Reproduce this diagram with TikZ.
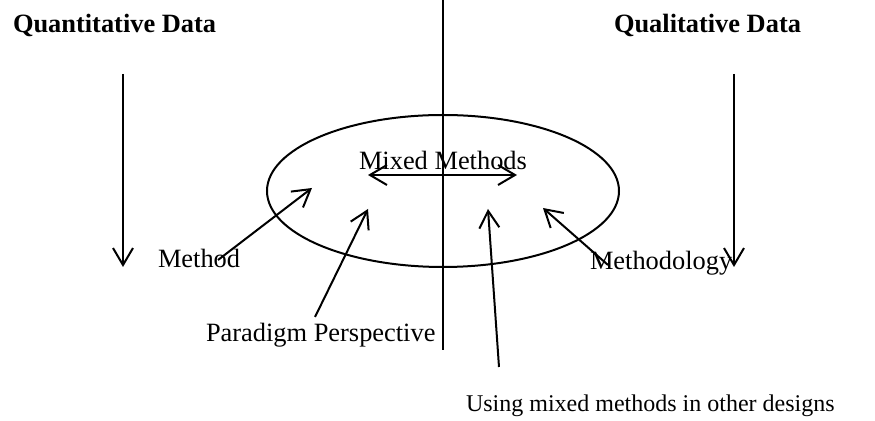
\documentclass[tikz,border=0pt]{standalone}
\usepackage{fontspec}
\setmainfont{Liberation Serif}
\usetikzlibrary{arrows.meta,shapes.geometric}
\begin{document}
\begin{tikzpicture}[x=0.5pt,y=-0.5pt, line width=1pt,
  txt/.style={inner sep=0pt, anchor=base west, font=\fontsize{13.2}{15}\selectfont},
  smalltxt/.style={inner sep=0pt, anchor=base west, font=\fontsize{12}{14}\selectfont},
  head/.style={inner sep=0pt, anchor=base west, font=\fontsize{13.2}{15}\selectfont\bfseries},
  arr/.style={-{Straight Barb[length=8.5pt,width=10pt]}},
  darr/.style={{Straight Barb[length=8.5pt,width=10pt]}-{Straight Barb[length=8.5pt,width=10pt]}}]
\useasboundingbox (0,0) rectangle (875,421);
% headings
\node[head] (quant) at (12,33) {Quantitative Data};
\node[head] (qual) at (613,33) {Qualitative Data};
% centre divider
\coordinate (vtop) at (443,0);
\coordinate (vbot) at (443,350);
\draw (vtop) -- (vbot);
% side arrows
\coordinate (la1) at (123,74);
\coordinate (la2) at (123,267);
\draw[arr] (la1) -- (la2);
\coordinate (ra1) at (734,74);
\coordinate (ra2) at (734,267);
\draw[arr] (ra1) -- (ra2);
% oval
\node[draw, ellipse, minimum width=176pt, minimum height=76pt, inner sep=0pt] (oval) at (443,191) {};
\node[txt] (mm) at (358,170) {Mixed Methods};
\coordinate (dl) at (368,175);
\coordinate (dr) at (517,175);
\draw[darr] (dl) -- (dr);
% labels
\node[txt] (method) at (157,268) {Method};
\node[txt] (paradigm) at (205,342) {Paradigm Perspective};
\node[smalltxt] (using) at (465,412) {Using mixed methods in other designs};
\node[txt] (methodology) at (589,270) {Methodology};
% pointing arrows
\coordinate (m1) at (218,260);
\coordinate (m2) at (312,188);
\draw[arr] (m1) -- (m2);
\coordinate (p1) at (315,317);
\coordinate (p2) at (368,209);
\draw[arr] (p1) -- (p2);
\coordinate (u1) at (499,367);
\coordinate (u2) at (488,209);
\draw[arr] (u1) -- (u2);
\coordinate (g1) at (608,265);
\coordinate (g2) at (543,208);
\draw[arr] (g1) -- (g2);
\end{tikzpicture}
\end{document}
